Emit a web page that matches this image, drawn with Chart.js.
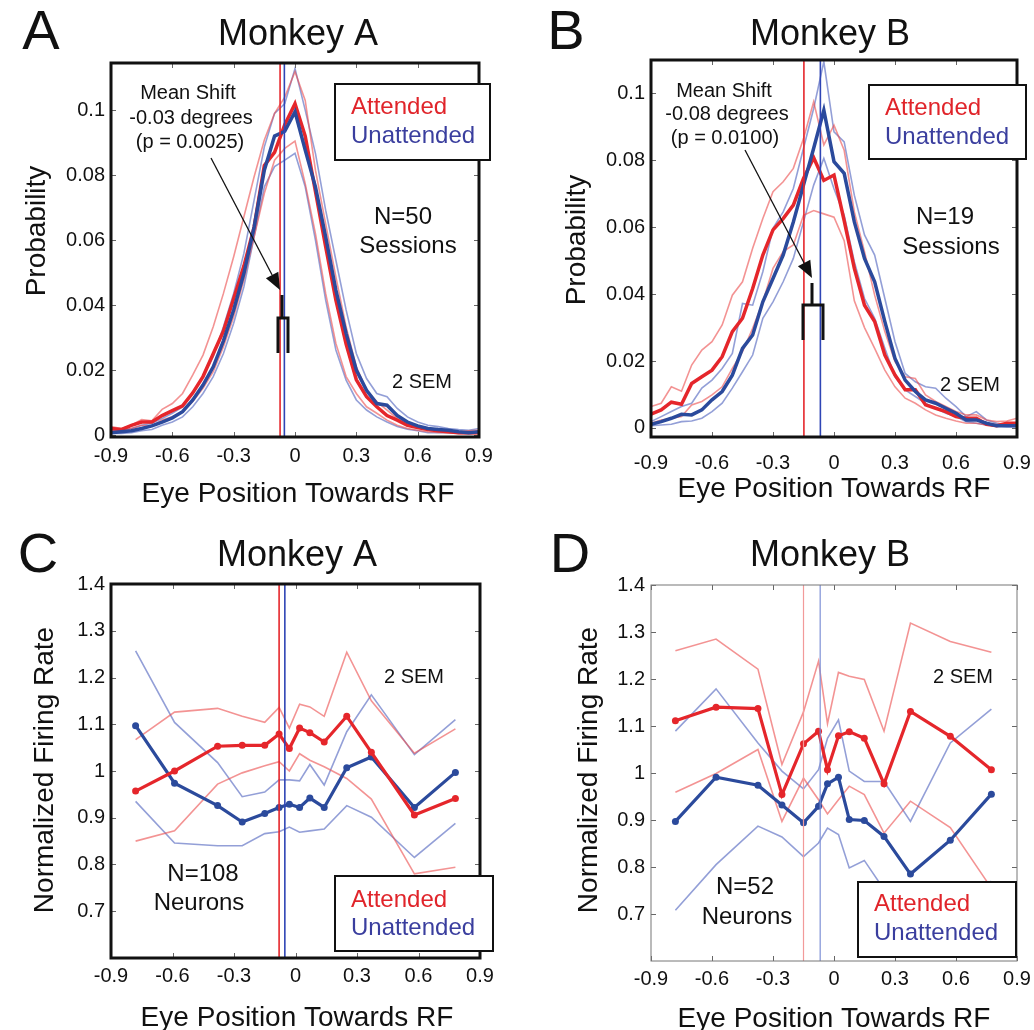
<!DOCTYPE html>
<html lang="en">
<head>
    <meta charset="UTF-8">
    <title>Eye position distributions and firing rates, Monkey A / Monkey B</title>
    <script src="https://cdn.jsdelivr.net/npm/chart.js"></script>
    <style>
        * { margin: 0; padding: 0; box-sizing: border-box; }
        body { background: #fff; width: 1034px; height: 1030px; position: relative; overflow: hidden; }
        canvas { position: absolute; }
        #panelA { left: 0; top: 0; }
        #panelB { left: 517px; top: 0; }
        #panelC { left: 0; top: 515px; }
        #panelD { left: 517px; top: 515px; }
    </style>
</head>
<body>
    <canvas id="panelA" width="517" height="515"></canvas>
    <canvas id="panelB" width="517" height="515"></canvas>
    <canvas id="panelC" width="517" height="515"></canvas>
    <canvas id="panelD" width="517" height="515"></canvas>

    <script>
        // ---- data ----
        const seriesNames = ['Attended', 'Unattended'];
        const xTicks = [-0.9, -0.6, -0.3, 0, 0.3, 0.6, 0.9];
        const probTicksA = [0, 0.02, 0.04, 0.06, 0.08, 0.1];
        const probTicksB = [0, 0.02, 0.04, 0.06, 0.08, 0.1];
        const rateTicks = [0.7, 0.8, 0.9, 1, 1.1, 1.2, 1.3, 1.4];

        // eye position bins (deg), panels A and B
        const eyeBins = [-0.9, -0.85, -0.8, -0.75, -0.7, -0.65, -0.6, -0.55, -0.5, -0.45, -0.4, -0.35, -0.3,
            -0.25, -0.2, -0.15, -0.1, -0.05, 0, 0.05, 0.1, 0.15, 0.2, 0.25, 0.3, 0.35, 0.4, 0.45, 0.5,
            0.55, 0.6, 0.65, 0.7, 0.75, 0.8, 0.85, 0.9];

        // Monkey A probability
        const aAtt = [0.002, 0.0017, 0.003, 0.004, 0.004, 0.006, 0.0075, 0.009, 0.013, 0.018, 0.025, 0.032, 0.042,
            0.052, 0.064, 0.083, 0.087, 0.0955, 0.102, 0.092, 0.075, 0.058, 0.0415, 0.028, 0.017, 0.0118, 0.0087,
            0.006, 0.0046, 0.003, 0.0023, 0.0017, 0.0013, 0.001, 0.0007, 0.0007, 0.0007];
        const aAttHi = [0.0026, 0.002, 0.003, 0.0048, 0.0044, 0.0079, 0.0097, 0.0128, 0.0185, 0.0246, 0.0333, 0.0436, 0.0549,
            0.0672, 0.0795, 0.0908, 0.099, 0.104, 0.1118, 0.103, 0.0815, 0.065, 0.0487, 0.0333, 0.021, 0.0138, 0.0103,
            0.0077, 0.0051, 0.0036, 0.0026, 0.002, 0.0015, 0.0013, 0.001, 0.0013, 0.0015];
        const aAttLo = [0.0015, 0.0013, 0.002, 0.003, 0.0027, 0.0046, 0.0056, 0.0072, 0.0103, 0.0144, 0.0195, 0.0272, 0.0364,
            0.0477, 0.061, 0.0744, 0.0846, 0.0882, 0.0905, 0.0774, 0.062, 0.0436, 0.0282, 0.018, 0.0128, 0.0087, 0.0067,
            0.0046, 0.003, 0.002, 0.0015, 0.001, 0.0008, 0.0007, 0.0005, 0.0004, 0.0005];
        const aUn = [0.0007, 0.001, 0.0013, 0.002, 0.0028, 0.004, 0.0053, 0.0072, 0.0108, 0.0154, 0.021, 0.029, 0.0385,
            0.0497, 0.064, 0.0815, 0.092, 0.0935, 0.0995, 0.0877, 0.0764, 0.061, 0.0446, 0.0313, 0.02, 0.0138, 0.0097,
            0.0092, 0.006, 0.004, 0.0028, 0.002, 0.0017, 0.0015, 0.001, 0.0007, 0.001];
        const aUnHi = [0.0013, 0.0015, 0.002, 0.003, 0.0036, 0.0051, 0.0067, 0.0087, 0.0128, 0.018, 0.0241, 0.0333, 0.0436,
            0.0559, 0.0723, 0.0887, 0.099, 0.102, 0.1128, 0.1, 0.0867, 0.0692, 0.0538, 0.0385, 0.0251, 0.0174, 0.0128,
            0.0118, 0.0082, 0.0056, 0.004, 0.003, 0.0026, 0.002, 0.0017, 0.0015, 0.002];
        const aUnLo = [0.0005, 0.0005, 0.0007, 0.0013, 0.0017, 0.003, 0.004, 0.0056, 0.0087, 0.0128, 0.018, 0.0251, 0.0344,
            0.0456, 0.061, 0.0764, 0.0826, 0.0846, 0.0867, 0.0764, 0.06, 0.0415, 0.0262, 0.0169, 0.0108, 0.0077, 0.0056,
            0.004, 0.0026, 0.0018, 0.0013, 0.0007, 0.0007, 0.0007, 0.0007, 0.0007, 0.0007];

        // Monkey B probability
        const bAtt = [0.0041, 0.0054, 0.0077, 0.0071, 0.0133, 0.0153, 0.0173, 0.0213, 0.0288, 0.0328, 0.0417, 0.0517, 0.0592,
            0.0626, 0.0666, 0.0746, 0.0808, 0.074, 0.0756, 0.062, 0.0477, 0.0367, 0.0318, 0.0218, 0.0158, 0.0114, 0.0114,
            0.0069, 0.0059, 0.0049, 0.0034, 0.0029, 0.0029, 0.0011, 0.0007, 0.0014, 0.0014];
        const bAttHi = [0.0064, 0.0074, 0.0123, 0.011, 0.0188, 0.0233, 0.0258, 0.0308, 0.0397, 0.0437, 0.0537, 0.0626, 0.0706,
            0.0736, 0.0776, 0.0865, 0.0975, 0.0846, 0.0905, 0.083, 0.0646, 0.0527, 0.0397, 0.0288, 0.0198, 0.0153, 0.0148,
            0.0099, 0.0079, 0.0064, 0.0049, 0.0039, 0.0039, 0.0024, 0.0019, 0.0021, 0.0029];
        const bAttLo = [0.0014, 0.0024, 0.0029, 0.0034, 0.0069, 0.0079, 0.0099, 0.0123, 0.0178, 0.0228, 0.0298, 0.0377, 0.0477,
            0.0527, 0.0547, 0.0636, 0.065, 0.064, 0.063, 0.056, 0.038, 0.03, 0.0238, 0.0173, 0.0123, 0.0089, 0.0074,
            0.0054, 0.0039, 0.0029, 0.0021, 0.0014, 0.0014, 0.0009, 0.0007, 0.0007, 0.0007];
        const bUn = [0.0011, 0.0019, 0.0029, 0.0041, 0.0039, 0.0054, 0.0084, 0.0109, 0.0158, 0.0238, 0.0278, 0.0377, 0.0447,
            0.0517, 0.0616, 0.0726, 0.0836, 0.095, 0.0796, 0.0761, 0.0616, 0.0507, 0.0437, 0.0318, 0.0208, 0.0143, 0.0109,
            0.0084, 0.0074, 0.0059, 0.0044, 0.0024, 0.0024, 0.0014, 0.0007, 0.0007, 0.0007];
        const bUnHi = [0.0019, 0.0034, 0.0049, 0.0064, 0.0074, 0.0119, 0.0143, 0.0178, 0.0223, 0.0372, 0.0367, 0.0467, 0.0597,
            0.0646, 0.0716, 0.0836, 0.0955, 0.1095, 0.0885, 0.0855, 0.0696, 0.0577, 0.0517, 0.0387, 0.0258, 0.0163, 0.0138,
            0.0123, 0.0119, 0.0089, 0.0064, 0.0034, 0.0049, 0.0024, 0.0014, 0.0009, 0.0011];
        const bUnLo = [0.0007, 0.0009, 0.0011, 0.0019, 0.0021, 0.0029, 0.0049, 0.0074, 0.0119, 0.0168, 0.0218, 0.0328, 0.0377,
            0.0437, 0.0507, 0.0616, 0.0726, 0.0806, 0.0715, 0.0636, 0.0497, 0.0387, 0.0328, 0.0238, 0.0153, 0.0114, 0.0094,
            0.0074, 0.0059, 0.0044, 0.0034, 0.0019, 0.0014, 0.0009, 0.0007, 0.0004, 0.0004];

        // Monkey A firing rate
        const cBins = [-0.78, -0.59, -0.38, -0.26, -0.15, -0.08, -0.03, 0.02, 0.07, 0.14, 0.25, 0.37, 0.58, 0.78];
        const cAtt = [0.957, 1.0, 1.053, 1.055, 1.055, 1.079, 1.048, 1.092, 1.082, 1.062, 1.117, 1.04, 0.906, 0.941];
        const cAttHi = [1.067, 1.126, 1.134, 1.117, 1.104, 1.136, 1.092, 1.143, 1.137, 1.117, 1.254, 1.15, 1.038, 1.09];
        const cAttLo = [0.85, 0.872, 0.972, 0.996, 1.011, 1.02, 1.0, 1.037, 1.023, 1.009, 0.984, 0.94, 0.78, 0.794];
        const cUn = [1.097, 0.974, 0.926, 0.891, 0.909, 0.922, 0.929, 0.922, 0.942, 0.922, 1.007, 1.03, 0.922, 0.997];
        const cUnHi = [1.257, 1.104, 1.018, 0.945, 0.955, 0.981, 0.981, 0.979, 1.014, 0.97, 1.084, 1.163, 1.035, 1.11];
        const cUnLo = [0.935, 0.846, 0.84, 0.84, 0.866, 0.87, 0.88, 0.869, 0.872, 0.876, 0.926, 0.901, 0.815, 0.888];

        // Monkey B firing rate
        const dBins = [-0.78, -0.58, -0.374, -0.256, -0.15, -0.076, -0.032, 0.022, 0.075, 0.149, 0.246, 0.376, 0.572, 0.774];
        const dAtt = [1.111, 1.14, 1.137, 0.954, 1.062, 1.089, 1.007, 1.079, 1.088, 1.074, 0.977, 1.131, 1.078, 1.007];
        const dAttHi = [1.26, 1.285, 1.221, 1.018, 1.13, 1.238, 1.105, 1.214, 1.206, 1.199, 1.089, 1.319, 1.28, 1.257];
        const dAttLo = [0.959, 0.999, 1.05, 0.897, 0.989, 0.943, 0.913, 0.943, 0.972, 0.954, 0.872, 0.94, 0.884, 0.755];
        const dUn = [0.897, 0.991, 0.974, 0.932, 0.894, 0.929, 0.977, 0.991, 0.901, 0.899, 0.865, 0.785, 0.857, 0.955];
        const dUnHi = [1.089, 1.179, 1.064, 1.004, 0.966, 1.007, 1.074, 1.113, 1.004, 0.982, 0.982, 0.897, 1.064, 1.136];
        const dUnLo = [0.708, 0.805, 0.887, 0.864, 0.822, 0.851, 0.883, 0.869, 0.798, 0.814, 0.752, 0.7, 0.68, 0.77];

        // mean eye positions [attended, unattended]
        const meansA = [-0.073, -0.052];
        const meansB = [-0.148, -0.067];
        const meansC = [-0.08, -0.052];
        const meansD = [-0.15, -0.068];

        // ---- styling ----
        const FONT = '"Liberation Sans", Arial, Helvetica, sans-serif';
        const RED = '#e5262b', RED_THIN = 'rgba(236, 80, 80, 0.62)';
        const BLUE = '#2b4a9c', BLUE_THIN = 'rgba(80, 100, 190, 0.62)';
        const RED_TXT = '#e0242a', BLUE_TXT = '#3a3e9e';
        Chart.defaults.font.family = FONT;

        const W = 517, H = 515;

        function line(xs, ys, color, width, dots) {
            return {
                data: xs.map((x, i) => ({ x: x, y: ys[i] })),
                borderColor: color, backgroundColor: color,
                borderWidth: width, pointRadius: dots ? 3.5 : 0, pointBorderWidth: 0,
                tension: 0, fill: false
            };
        }

        function vline(x, yMin, yMax, color, width) {
            return { data: [{ x: x, y: yMin }, { x: x, y: yMax }], borderColor: color, borderWidth: width, pointRadius: 0 };
        }

        function fmt(v) {
            return String(Math.round(v * 1000) / 1000);
        }

        function drawText(ctx, t) {
            ctx.save();
            ctx.font = (t.weight || '') + ' ' + t.size + 'px ' + FONT;
            ctx.fillStyle = t.color || '#111';
            ctx.textAlign = t.align || 'center';
            ctx.textBaseline = t.base || 'alphabetic';
            ctx.translate(t.x, t.y);
            if (t.rot) ctx.rotate(-Math.PI / 2);
            ctx.fillText(t.t, 0, 0);
            ctx.restore();
        }

        // frame, inner ticks, legend box, labels and annotations
        function deco(spec) {
            return {
                id: 'deco',
                afterDraw(chart) {
                    const ctx = chart.ctx, a = chart.chartArea;
                    const xs = chart.scales.x, ys = chart.scales.y;
                    ctx.save();

                    ctx.strokeStyle = '#666';
                    ctx.lineWidth = 1;
                    ctx.beginPath();
                    xTicks.forEach(v => {
                        const px = Math.round(xs.getPixelForValue(v)) + 0.5;
                        ctx.moveTo(px, a.bottom); ctx.lineTo(px, a.bottom - 5);
                        ctx.moveTo(px, a.top); ctx.lineTo(px, a.top + 5);
                    });
                    spec.yTicks.forEach(v => {
                        const py = Math.round(ys.getPixelForValue(v)) + 0.5;
                        ctx.moveTo(a.left, py); ctx.lineTo(a.left + 5, py);
                        ctx.moveTo(a.right, py); ctx.lineTo(a.right - 5, py);
                    });
                    ctx.stroke();

                    ctx.strokeStyle = spec.frame.color;
                    ctx.lineWidth = spec.frame.width;
                    ctx.strokeRect(a.left, a.top, a.right - a.left, a.bottom - a.top);

                    const L = spec.legend;
                    ctx.fillStyle = '#fff';
                    ctx.fillRect(L.x, L.y, L.w, L.h);
                    ctx.strokeStyle = '#111';
                    ctx.lineWidth = 2;
                    ctx.strokeRect(L.x, L.y, L.w, L.h);
                    drawText(ctx, { t: seriesNames[0], x: L.tx, y: L.ty1, size: 24, align: 'left', base: 'middle', color: RED_TXT });
                    drawText(ctx, { t: seriesNames[1], x: L.tx, y: L.ty2, size: 24, align: 'left', base: 'middle', color: BLUE_TXT });

                    spec.texts.forEach(t => drawText(ctx, t));

                    if (spec.arrow) {
                        const r = spec.arrow;
                        const dx = r.x2 - r.x1, dy = r.y2 - r.y1, len = Math.hypot(dx, dy);
                        const ux = dx / len, uy = dy / len, hl = 17, hw = 7;
                        ctx.strokeStyle = '#111';
                        ctx.fillStyle = '#111';
                        ctx.lineWidth = 1.3;
                        ctx.beginPath();
                        ctx.moveTo(r.x1, r.y1);
                        ctx.lineTo(r.x2 - ux * hl, r.y2 - uy * hl);
                        ctx.stroke();
                        ctx.beginPath();
                        ctx.moveTo(r.x2, r.y2);
                        ctx.lineTo(r.x2 - ux * hl - uy * hw, r.y2 - uy * hl + ux * hw);
                        ctx.lineTo(r.x2 - ux * hl + uy * hw, r.y2 - uy * hl - ux * hw);
                        ctx.closePath();
                        ctx.fill();
                    }

                    if (spec.bracket) {
                        const b = spec.bracket;
                        ctx.strokeStyle = '#111';
                        ctx.lineWidth = 3;
                        ctx.beginPath();
                        ctx.moveTo(b.stem, b.top); ctx.lineTo(b.stem, b.mid);
                        ctx.moveTo(b.l, b.bottom); ctx.lineTo(b.l, b.mid); ctx.lineTo(b.r, b.mid); ctx.lineTo(b.r, b.bottom);
                        ctx.stroke();
                    }
                    ctx.restore();
                }
            };
        }

        function makePanel(id, spec) {
            const ar = spec.area;
            new Chart(document.getElementById(id), {
                type: 'line',
                data: { datasets: spec.datasets },
                options: {
                    responsive: false,
                    animation: false,
                    layout: { padding: { left: 0, top: ar.top, right: W - ar.right, bottom: 0 } },
                    plugins: { legend: { display: false }, tooltip: { enabled: false } },
                    scales: {
                        x: {
                            type: 'linear', min: -0.9, max: 0.9,
                            grid: { display: false, drawTicks: false },
                            border: { display: false },
                            afterBuildTicks: s => { s.ticks = xTicks.map(v => ({ value: v })); },
                            afterFit: s => { s.height = H - ar.bottom; s.paddingLeft = 0; s.paddingRight = 0; },
                            ticks: { autoSkip: false, maxRotation: 0, padding: spec.xPad, color: '#111', font: { size: 20 }, callback: v => fmt(v) }
                        },
                        y: {
                            type: 'linear', min: spec.yMin, max: spec.yMax,
                            grid: { display: false, drawTicks: false },
                            border: { display: false },
                            afterBuildTicks: s => { s.ticks = spec.yTicks.map(v => ({ value: v })); },
                            afterFit: s => { s.width = ar.left; s.paddingTop = 0; s.paddingBottom = 0; },
                            ticks: { autoSkip: false, padding: 6, color: '#111', font: { size: 20 }, callback: v => fmt(v) }
                        }
                    }
                },
                plugins: [deco(spec)]
            });
        }

        // ---- A ----
        makePanel('panelA', {
            area: { left: 111, right: 479, top: 63, bottom: 437 },
            yMin: -0.0006, yMax: 0.1145, yTicks: probTicksA, xPad: 7,
            frame: { width: 3, color: '#111' },
            datasets: [
                vline(meansA[0], -0.0006, 0.1145, RED, 1.6),
                vline(meansA[1], -0.0006, 0.1145, '#2f45b5', 1.6),
                line(eyeBins, aUn, BLUE, 3.5),
                line(eyeBins, aAtt, RED, 3.5),
                line(eyeBins, aAttHi, RED_THIN, 1.6),
                line(eyeBins, aAttLo, RED_THIN, 1.6),
                line(eyeBins, aUnHi, BLUE_THIN, 1.6),
                line(eyeBins, aUnLo, BLUE_THIN, 1.6)
            ],
            legend: { x: 335, y: 84, w: 155, h: 76, tx: 351, ty1: 107, ty2: 136 },
            arrow: { x1: 211, y1: 158, x2: 280, y2: 290 },
            bracket: { stem: 282, top: 295, mid: 318, bottom: 353, l: 278, r: 288 },
            texts: [
                { t: 'A', x: 41, y: 49, size: 56 },
                { t: 'Monkey A', x: 298, y: 45, size: 36 },
                { t: 'Probability', x: 45, y: 231, size: 28, rot: true },
                { t: 'Eye Position Towards RF', x: 298, y: 502, size: 28 },
                { t: 'Mean Shift', x: 188, y: 93, size: 20, base: 'middle' },
                { t: '-0.03 degrees', x: 191, y: 118, size: 20, base: 'middle' },
                { t: '(p = 0.0025)', x: 190, y: 142, size: 20, base: 'middle' },
                { t: 'N=50', x: 403, y: 217, size: 24, base: 'middle' },
                { t: 'Sessions', x: 408, y: 246, size: 24, base: 'middle' },
                { t: '2 SEM', x: 422, y: 382, size: 20, base: 'middle' }
            ]
        });

        // ---- B ----
        makePanel('panelB', {
            area: { left: 134, right: 500, top: 60, bottom: 437 },
            yMin: -0.0027, yMax: 0.11, yTicks: probTicksB, xPad: 14,
            frame: { width: 3, color: '#111' },
            datasets: [
                vline(meansB[0], -0.0027, 0.11, RED, 1.6),
                vline(meansB[1], -0.0027, 0.11, '#2f45b5', 1.6),
                line(eyeBins, bUn, BLUE, 3.5),
                line(eyeBins, bAtt, RED, 3.5),
                line(eyeBins, bAttHi, RED_THIN, 1.6),
                line(eyeBins, bAttLo, RED_THIN, 1.6),
                line(eyeBins, bUnHi, BLUE_THIN, 1.6),
                line(eyeBins, bUnLo, BLUE_THIN, 1.6)
            ],
            legend: { x: 352, y: 85, w: 157, h: 74, tx: 368, ty1: 108, ty2: 137 },
            arrow: { x1: 228, y1: 150, x2: 295, y2: 278 },
            bracket: { stem: 295, top: 283, mid: 305, bottom: 340, l: 286, r: 306 },
            texts: [
                { t: 'B', x: 49, y: 49, size: 56 },
                { t: 'Monkey B', x: 313, y: 45, size: 36 },
                { t: 'Probability', x: 68, y: 240, size: 28, rot: true },
                { t: 'Eye Position Towards RF', x: 317, y: 497, size: 28 },
                { t: 'Mean Shift', x: 207, y: 91, size: 20, base: 'middle' },
                { t: '-0.08 degrees', x: 210, y: 114, size: 20, base: 'middle' },
                { t: '(p = 0.0100)', x: 208, y: 138, size: 20, base: 'middle' },
                { t: 'N=19', x: 428, y: 217, size: 24, base: 'middle' },
                { t: 'Sessions', x: 434, y: 247, size: 24, base: 'middle' },
                { t: '2 SEM', x: 453, y: 385, size: 20, base: 'middle' }
            ]
        });

        // ---- C ----
        makePanel('panelC', {
            area: { left: 111, right: 480, top: 69, bottom: 443 },
            yMin: 0.6, yMax: 1.4, yTicks: rateTicks, xPad: 6,
            frame: { width: 3, color: '#111' },
            datasets: [
                vline(meansC[0], 0.6, 1.4, RED, 1.6),
                vline(meansC[1], 0.6, 1.4, '#2f45b5', 1.6),
                line(cBins, cAtt, RED, 3.2, true),
                line(cBins, cUn, BLUE, 3.2, true),
                line(cBins, cAttHi, RED_THIN, 1.6),
                line(cBins, cAttLo, RED_THIN, 1.6),
                line(cBins, cUnHi, BLUE_THIN, 1.6),
                line(cBins, cUnLo, BLUE_THIN, 1.6)
            ],
            legend: { x: 335, y: 361, w: 158, h: 75, tx: 351, ty1: 385, ty2: 413 },
            texts: [
                { t: 'C', x: 38, y: 57, size: 56 },
                { t: 'Monkey A', x: 297, y: 51, size: 36 },
                { t: 'Normalized Firing Rate', x: 53, y: 255, size: 28, rot: true },
                { t: 'Eye Position Towards RF', x: 297, y: 511, size: 28 },
                { t: '2 SEM', x: 414, y: 162, size: 20, base: 'middle' },
                { t: 'N=108', x: 203, y: 359, size: 24, base: 'middle' },
                { t: 'Neurons', x: 199, y: 388, size: 24, base: 'middle' }
            ]
        });

        // ---- D ----
        makePanel('panelD', {
            area: { left: 134, right: 500, top: 70, bottom: 446 },
            yMin: 0.6, yMax: 1.4, yTicks: rateTicks, xPad: 6,
            frame: { width: 1, color: '#777' },
            datasets: [
                vline(meansD[0], 0.6, 1.4, '#f29a9a', 1.2),
                vline(meansD[1], 0.6, 1.4, '#7d8fd6', 1.2),
                line(dBins, dAtt, RED, 3.2, true),
                line(dBins, dUn, BLUE, 3.2, true),
                line(dBins, dAttHi, RED_THIN, 1.6),
                line(dBins, dAttLo, RED_THIN, 1.6),
                line(dBins, dUnHi, BLUE_THIN, 1.6),
                line(dBins, dUnLo, BLUE_THIN, 1.6)
            ],
            legend: { x: 341, y: 367, w: 158, h: 75, tx: 357, ty1: 389, ty2: 418 },
            texts: [
                { t: 'D', x: 53, y: 57, size: 56 },
                { t: 'Monkey B', x: 313, y: 51, size: 36 },
                { t: 'Normalized Firing Rate', x: 80, y: 255, size: 28, rot: true },
                { t: 'Eye Position Towards RF', x: 317, y: 512, size: 28 },
                { t: '2 SEM', x: 446, y: 162, size: 20, base: 'middle' },
                { t: 'N=52', x: 228, y: 372, size: 24, base: 'middle' },
                { t: 'Neurons', x: 230, y: 402, size: 24, base: 'middle' }
            ]
        });
    </script>
</body>
</html>
